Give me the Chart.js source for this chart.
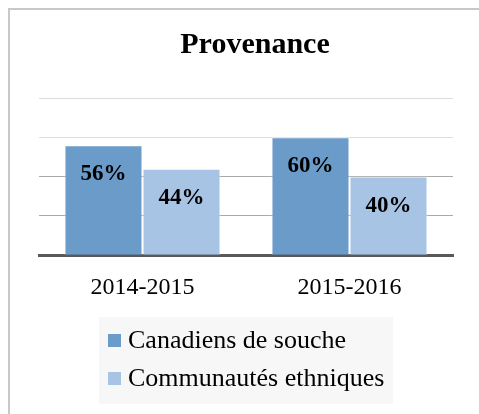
<!DOCTYPE html>
<html>
<head>
<meta charset="utf-8">
<script src="https://cdn.jsdelivr.net/npm/chart.js@4"></script>
<style>
  html, body { margin: 0; padding: 0; background: #fff; overflow: hidden; width: 479px; height: 414px; }
  .frame { position: absolute; left: 8px; top: 8px; width: 600px; height: 600px; border-left: 2px solid #c8c8c8; border-top: 2px solid #c8c8c8; }
  .chart-box { position: absolute; left: 0; top: 0; width: 510px; height: 414px; }
</style>
</head>
<body>
<div class="frame"></div>
<div class="chart-box"><canvas id="chart" width="510" height="414"></canvas></div>
<script>
const title = 'Provenance';
const categories = ['2014-2015', '2015-2016'];
const seriesNames = ['Canadiens de souche', 'Communautés ethniques'];
const canadiens = [56, 60];
const communautes = [44, 40];
const colors = ['#6a9bc9', '#a8c4e5'];

const serif = '"Liberation Serif", serif';

// draw the percentage inside each bar
const valueLabels = {
    id: 'valueLabels',
    afterDatasetsDraw(chart) {
        const ctx = chart.ctx;
        ctx.save();
        ctx.font = 'bold 23px ' + serif;
        ctx.fillStyle = '#000';
        ctx.textAlign = 'center';
        ctx.textBaseline = 'middle';
        chart.data.datasets.forEach((ds, i) => {
            chart.getDatasetMeta(i).data.forEach((bar, j) => {
                ctx.fillText(ds.data[j] + '%', bar.x, bar.y + 29);
            });
        });
        ctx.restore();
    }
};

// stacked legend in a light grey box under the chart
const boxLegend = {
    id: 'boxLegend',
    afterDraw(chart) {
        const ctx = chart.ctx;
        ctx.save();
        ctx.fillStyle = '#f7f7f7';
        ctx.fillRect(99, 317, 294, 87);
        ctx.font = '26px ' + serif;
        ctx.textBaseline = 'middle';
        chart.data.datasets.forEach((ds, i) => {
            const y = 340 + i * 38;
            ctx.fillStyle = ds.backgroundColor;
            ctx.fillRect(108, y - 6, 13, 13);
            ctx.fillStyle = '#000';
            ctx.fillText(ds.label, 128, y + 1);
        });
        ctx.restore();
    }
};

const chart = new Chart(document.getElementById('chart').getContext('2d'), {
    type: 'bar',
    data: {
        labels: categories,
        datasets: [
            { label: seriesNames[0], data: canadiens, backgroundColor: colors[0], borderColor: 'rgba(255,255,255,0.5)', borderWidth: 1 },
            { label: seriesNames[1], data: communautes, backgroundColor: colors[1], borderColor: 'rgba(255,255,255,0.5)', borderWidth: 1 }
        ]
    },
    options: {
        responsive: false,
        animation: false,
        layout: { padding: { left: 0, right: 0, top: 0, bottom: 94 } },
        datasets: { bar: { categoryPercentage: 0.754, barPercentage: 1 } },
        plugins: {
            legend: { display: false },
            tooltip: { enabled: false },
            title: {
                display: true,
                text: title,
                color: '#000',
                font: { family: serif, size: 30, weight: 'bold' },
                padding: { top: 27, bottom: 35 }
            }
        },
        scales: {
            x: {
                grid: { display: false, drawTicks: false },
                border: { display: true, color: '#595959', width: 3 },
                ticks: { color: '#000', padding: 18, font: { family: serif, size: 24 } }
            },
            y: {
                min: 0,
                max: 80,
                ticks: { display: false, stepSize: 20 },
                border: { display: false },
                afterFit: s => { s.width = 39; },
                grid: {
                    drawTicks: false,
                    color: c => c.tick.value === 0 ? 'rgba(0,0,0,0)' : (c.tick.value >= 60 ? '#dcdcdc' : '#aaaaaa')
                }
            },
            yRight: {
                position: 'right',
                min: 0,
                max: 80,
                ticks: { display: false },
                border: { display: false },
                grid: { display: false, drawTicks: false },
                afterFit: s => { s.width = 57; }
            }
        }
    },
    plugins: [valueLabels, boxLegend]
});
</script>
</body>
</html>
